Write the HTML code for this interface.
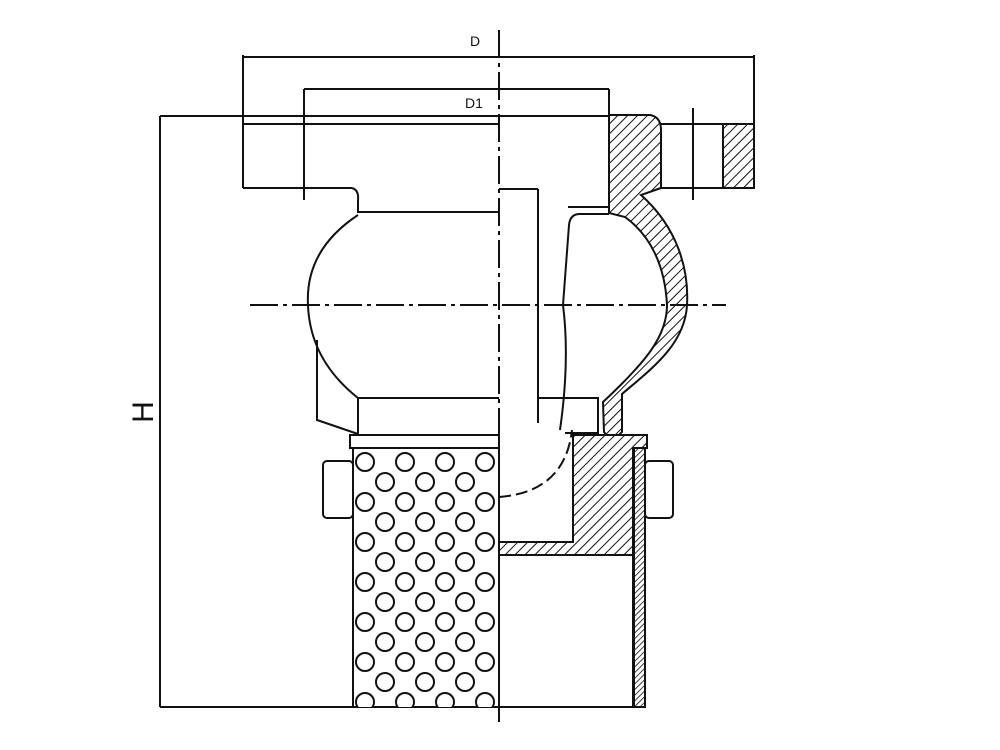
<!DOCTYPE html>
<html><head><meta charset="utf-8"><style>
html,body{margin:0;padding:0;background:#fff}
svg{display:block}
text{font-family:"Liberation Sans",sans-serif;fill:#111}
</style></head><body>
<svg width="1000" height="750" viewBox="0 0 1000 750" xmlns="http://www.w3.org/2000/svg">
<defs>
<pattern id="h" width="7" height="7" patternUnits="userSpaceOnUse" patternTransform="rotate(45)">
<rect width="7" height="7" fill="#fff"/><line x1="0" y1="0" x2="0" y2="7" stroke="#111" stroke-width="2"/>
</pattern>
<pattern id="h2" width="4" height="4" patternUnits="userSpaceOnUse" patternTransform="rotate(45)">
<rect width="4" height="4" fill="#fff"/><line x1="0" y1="0" x2="0" y2="4" stroke="#111" stroke-width="1.6"/>
</pattern>
<clipPath id="sc"><rect x="353" y="448" width="146" height="259"/></clipPath>
</defs>
<g fill="none" stroke="#111" stroke-width="2">
<line x1="243" y1="57" x2="753" y2="57"/>
<line x1="243" y1="55" x2="243" y2="188"/>
<line x1="754" y1="55" x2="754" y2="124"/>
<line x1="304" y1="89" x2="609" y2="89"/>
<line x1="304" y1="89" x2="304" y2="200"/>
<line x1="609" y1="89" x2="609" y2="115"/>
<line x1="160" y1="116" x2="609" y2="116"/>
<line x1="243" y1="124" x2="499" y2="124"/>
<line x1="160" y1="116" x2="160" y2="707"/>
<line x1="243" y1="188" x2="352" y2="188"/>
<path d="M352,188 Q359,190 358,200 L358,212 L499,212"/>
<path d="M358,215 Q305,250 308,305 Q310,360 358,398 L499,398"/>
<line x1="358" y1="398" x2="358" y2="434"/>
<path d="M317,340 L317,420 L358,434"/>
<rect x="350" y="435" width="149" height="13"/>
<rect x="353" y="448" width="146" height="259"/>
<rect x="323" y="461" width="30" height="57" rx="4"/>
<rect x="645" y="461" width="28" height="57" rx="4"/>
<line x1="499" y1="189" x2="538" y2="189"/>
<line x1="538" y1="189" x2="538" y2="423"/>
<line x1="568" y1="207" x2="609" y2="207"/>
<path d="M609,214 L580,214 Q570,214 569,225 L563,305 Q570,360 560,430"/>
<path d="M538,398 L598,398 L598,433 L565,433"/>
<line x1="661" y1="124" x2="723" y2="124"/>
<line x1="661" y1="188" x2="723" y2="188"/>
<line x1="160" y1="707" x2="645" y2="707"/>
<rect x="499" y="555" width="134" height="152"/>
</g>
<g stroke="#111" stroke-width="2">
<path fill="url(#h)" d="M609,115 L650,115 Q661,117 661,130 L661,188 L641,195 C 678,228 689,270 687,305 C 685,345 650,370 622,394 L622,432 Q612,443 604,432 L603,402 C 648,360 667,335 667,305 C 665,265 650,235 625,217 L609,213 Z"/>
<rect fill="url(#h)" x="723" y="124" width="31" height="64"/>
<path fill="url(#h)" d="M573,435 L647,435 L647,448 L633,448 L633,555 L499,555 L499,542 L573,542 Z"/>
<rect fill="url(#h2)" x="634" y="448" width="11" height="259"/>
</g>
<g clip-path="url(#sc)" fill="#fff" stroke="#111" stroke-width="2">
<g id="r1"><circle cx="365" cy="462" r="9"/><circle cx="405" cy="462" r="9"/><circle cx="445" cy="462" r="9"/><circle cx="485" cy="462" r="9"/></g>
<g id="r2"><circle cx="385" cy="482" r="9"/><circle cx="425" cy="482" r="9"/><circle cx="465" cy="482" r="9"/></g>
<use href="#r1" y="40"/><use href="#r2" y="40"/>
<use href="#r1" y="80"/><use href="#r2" y="80"/>
<use href="#r1" y="120"/><use href="#r2" y="120"/>
<use href="#r1" y="160"/><use href="#r2" y="160"/>
<use href="#r1" y="200"/><use href="#r2" y="200"/>
<use href="#r1" y="240"/>
</g>
<g fill="none" stroke="#111" stroke-width="2" stroke-dasharray="28,5,4,5">
<line x1="499" y1="30" x2="499" y2="722"/>
<line x1="250" y1="305" x2="726" y2="305"/>
<line x1="693" y1="108" x2="693" y2="200" stroke-dasharray="none"/>
<path d="M499,497 Q565,492 572,430" stroke-dasharray="12,5"/>
</g>
<text x="475" y="46" font-size="14" text-anchor="middle">D</text>
<text x="474" y="108" font-size="14" text-anchor="middle">D1</text>
<text transform="translate(153,412) rotate(-90)" font-size="30" text-anchor="middle">H</text>
</svg>
</body></html>
